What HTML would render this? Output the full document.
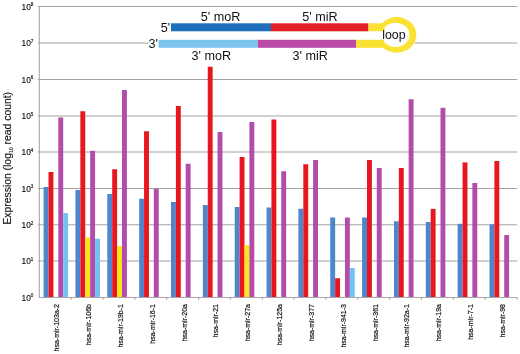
<!DOCTYPE html>
<html><head><meta charset="utf-8"><title>Expression chart</title>
<style>html,body{margin:0;padding:0;background:#fff}svg{display:block}text{font-family:"Liberation Sans",Arial,sans-serif;fill:#111}</style></head><body>
<svg width="520" height="354" viewBox="0 0 520 354">
<rect width="520" height="354" fill="#fff"/>
<g stroke="#a3a3a3" stroke-width="1">
<line x1="37.8" y1="6.5" x2="517.2" y2="6.5"/>
<line x1="37.8" y1="43" x2="517.2" y2="43"/>
<line x1="37.8" y1="79.5" x2="517.2" y2="79.5"/>
<line x1="37.8" y1="116" x2="517.2" y2="116"/>
<line x1="37.8" y1="152" x2="517.2" y2="152"/>
<line x1="37.8" y1="188.5" x2="517.2" y2="188.5"/>
<line x1="37.8" y1="224.8" x2="517.2" y2="224.8"/>
<line x1="37.8" y1="261" x2="517.2" y2="261"/>
</g>
<rect x="148.5" y="9" width="266" height="56" fill="#fff"/>
<rect x="43.60" y="187" width="4.9" height="110.50" fill="#4f85cb"/>
<rect x="48.50" y="172" width="4.9" height="125.50" fill="#e8161e"/>
<rect x="58.30" y="117.5" width="4.9" height="180.00" fill="#b34dab"/>
<rect x="63.20" y="213" width="4.9" height="84.50" fill="#70c4ef"/>
<rect x="75.45" y="190" width="4.9" height="107.50" fill="#4f85cb"/>
<rect x="80.35" y="111.25" width="4.9" height="186.25" fill="#e8161e"/>
<rect x="85.25" y="237.5" width="4.9" height="60.00" fill="#f8e520"/>
<rect x="90.15" y="150.75" width="4.9" height="146.75" fill="#b34dab"/>
<rect x="95.05" y="238.75" width="4.9" height="58.75" fill="#70c4ef"/>
<rect x="107.30" y="194" width="4.9" height="103.50" fill="#4f85cb"/>
<rect x="112.20" y="169.25" width="4.9" height="128.25" fill="#e8161e"/>
<rect x="117.10" y="246.25" width="4.9" height="51.25" fill="#f8e520"/>
<rect x="122.00" y="90" width="4.9" height="207.50" fill="#b34dab"/>
<rect x="139.15" y="198.75" width="4.9" height="98.75" fill="#4f85cb"/>
<rect x="144.05" y="131.25" width="4.9" height="166.25" fill="#e8161e"/>
<rect x="153.85" y="188.75" width="4.9" height="108.75" fill="#b34dab"/>
<rect x="171.00" y="202" width="4.9" height="95.50" fill="#4f85cb"/>
<rect x="175.90" y="106" width="4.9" height="191.50" fill="#e8161e"/>
<rect x="185.70" y="163.75" width="4.9" height="133.75" fill="#b34dab"/>
<rect x="202.85" y="205" width="4.9" height="92.50" fill="#4f85cb"/>
<rect x="207.75" y="66.75" width="4.9" height="230.75" fill="#e8161e"/>
<rect x="217.55" y="132" width="4.9" height="165.50" fill="#b34dab"/>
<rect x="234.70" y="207" width="4.9" height="90.50" fill="#4f85cb"/>
<rect x="239.60" y="157" width="4.9" height="140.50" fill="#e8161e"/>
<rect x="244.50" y="245" width="4.9" height="52.50" fill="#f8e520"/>
<rect x="249.40" y="122" width="4.9" height="175.50" fill="#b34dab"/>
<rect x="266.55" y="207.5" width="4.9" height="90.00" fill="#4f85cb"/>
<rect x="271.45" y="119.5" width="4.9" height="178.00" fill="#e8161e"/>
<rect x="281.25" y="171.25" width="4.9" height="126.25" fill="#b34dab"/>
<rect x="298.40" y="208.75" width="4.9" height="88.75" fill="#4f85cb"/>
<rect x="303.30" y="164.25" width="4.9" height="133.25" fill="#e8161e"/>
<rect x="313.10" y="160" width="4.9" height="137.50" fill="#b34dab"/>
<rect x="330.25" y="217.5" width="4.9" height="80.00" fill="#4f85cb"/>
<rect x="335.15" y="278.25" width="4.9" height="19.25" fill="#e8161e"/>
<rect x="344.95" y="217.5" width="4.9" height="80.00" fill="#b34dab"/>
<rect x="349.85" y="268" width="4.9" height="29.50" fill="#70c4ef"/>
<rect x="362.10" y="217.5" width="4.9" height="80.00" fill="#4f85cb"/>
<rect x="367.00" y="160" width="4.9" height="137.50" fill="#e8161e"/>
<rect x="376.80" y="168" width="4.9" height="129.50" fill="#b34dab"/>
<rect x="393.95" y="221.25" width="4.9" height="76.25" fill="#4f85cb"/>
<rect x="398.85" y="168" width="4.9" height="129.50" fill="#e8161e"/>
<rect x="408.65" y="99.25" width="4.9" height="198.25" fill="#b34dab"/>
<rect x="425.80" y="222" width="4.9" height="75.50" fill="#4f85cb"/>
<rect x="430.70" y="208.9" width="4.9" height="88.60" fill="#e8161e"/>
<rect x="440.50" y="107.8" width="4.9" height="189.70" fill="#b34dab"/>
<rect x="457.65" y="223.8" width="4.9" height="73.70" fill="#4f85cb"/>
<rect x="462.55" y="162.4" width="4.9" height="135.10" fill="#e8161e"/>
<rect x="472.35" y="183" width="4.9" height="114.50" fill="#b34dab"/>
<rect x="489.50" y="224.3" width="4.9" height="73.20" fill="#4f85cb"/>
<rect x="494.40" y="161" width="4.9" height="136.50" fill="#e8161e"/>
<rect x="504.20" y="235" width="4.9" height="62.50" fill="#b34dab"/>
<line x1="39.3" y1="6" x2="39.3" y2="298.0" stroke="#a0a0a0" stroke-width="1"/>
<line x1="38.8" y1="297.5" x2="517.2" y2="297.5" stroke="#ada6a6" stroke-width="1"/>
<g stroke="#a8948f" stroke-width="1">
<line x1="71.15" y1="297.5" x2="71.15" y2="299.7"/>
<line x1="103.00" y1="297.5" x2="103.00" y2="299.7"/>
<line x1="134.85" y1="297.5" x2="134.85" y2="299.7"/>
<line x1="166.70" y1="297.5" x2="166.70" y2="299.7"/>
<line x1="198.55" y1="297.5" x2="198.55" y2="299.7"/>
<line x1="230.40" y1="297.5" x2="230.40" y2="299.7"/>
<line x1="262.25" y1="297.5" x2="262.25" y2="299.7"/>
<line x1="294.10" y1="297.5" x2="294.10" y2="299.7"/>
<line x1="325.95" y1="297.5" x2="325.95" y2="299.7"/>
<line x1="357.80" y1="297.5" x2="357.80" y2="299.7"/>
<line x1="389.65" y1="297.5" x2="389.65" y2="299.7"/>
<line x1="421.50" y1="297.5" x2="421.50" y2="299.7"/>
<line x1="453.35" y1="297.5" x2="453.35" y2="299.7"/>
<line x1="485.20" y1="297.5" x2="485.20" y2="299.7"/>
<line x1="517.05" y1="297.5" x2="517.05" y2="299.7"/>
</g>
<text x="21.6" y="9.8" font-size="8.4" stroke="#1a1a1a" stroke-width="0.15">10<tspan font-size="4.6" dy="-3.4" dx="-0.2">8</tspan></text>
<text x="21.6" y="46.3" font-size="8.4" stroke="#1a1a1a" stroke-width="0.15">10<tspan font-size="4.6" dy="-3.4" dx="-0.2">7</tspan></text>
<text x="21.6" y="82.8" font-size="8.4" stroke="#1a1a1a" stroke-width="0.15">10<tspan font-size="4.6" dy="-3.4" dx="-0.2">6</tspan></text>
<text x="21.6" y="119.3" font-size="8.4" stroke="#1a1a1a" stroke-width="0.15">10<tspan font-size="4.6" dy="-3.4" dx="-0.2">5</tspan></text>
<text x="21.6" y="155.3" font-size="8.4" stroke="#1a1a1a" stroke-width="0.15">10<tspan font-size="4.6" dy="-3.4" dx="-0.2">4</tspan></text>
<text x="21.6" y="191.8" font-size="8.4" stroke="#1a1a1a" stroke-width="0.15">10<tspan font-size="4.6" dy="-3.4" dx="-0.2">3</tspan></text>
<text x="21.6" y="228.10000000000002" font-size="8.4" stroke="#1a1a1a" stroke-width="0.15">10<tspan font-size="4.6" dy="-3.4" dx="-0.2">2</tspan></text>
<text x="21.6" y="264.3" font-size="8.4" stroke="#1a1a1a" stroke-width="0.15">10<tspan font-size="4.6" dy="-3.4" dx="-0.2">1</tspan></text>
<text x="21.6" y="300.8" font-size="8.4" stroke="#1a1a1a" stroke-width="0.15">10<tspan font-size="4.6" dy="-3.4" dx="-0.2">0</tspan></text>
<text transform="translate(11.2,224.6) rotate(-90)" font-size="10.38" word-spacing="0" stroke="#1a1a1a" stroke-width="0.15">Expression (log<tspan font-size="5.2" dy="1.8">10</tspan><tspan dy="-1.8"> read count)</tspan></text>
<text transform="translate(59.12,304) rotate(-90)" font-size="7" text-anchor="end" stroke="#1a1a1a" stroke-width="0.2">hsa-mir-103a-2</text>
<text transform="translate(90.98,304) rotate(-90)" font-size="7" text-anchor="end" stroke="#1a1a1a" stroke-width="0.2">hsa-mir-106b</text>
<text transform="translate(122.83,304) rotate(-90)" font-size="7" text-anchor="end" stroke="#1a1a1a" stroke-width="0.2">hsa-mir-19b-1</text>
<text transform="translate(154.68,304) rotate(-90)" font-size="7" text-anchor="end" stroke="#1a1a1a" stroke-width="0.2">hsa-mir-16-1</text>
<text transform="translate(186.53,304) rotate(-90)" font-size="7" text-anchor="end" stroke="#1a1a1a" stroke-width="0.2">hsa-mir-20a</text>
<text transform="translate(218.38,304) rotate(-90)" font-size="7" text-anchor="end" stroke="#1a1a1a" stroke-width="0.2">hsa-mir-21</text>
<text transform="translate(250.23,304) rotate(-90)" font-size="7" text-anchor="end" stroke="#1a1a1a" stroke-width="0.2">hsa-mir-27a</text>
<text transform="translate(282.07,304) rotate(-90)" font-size="7" text-anchor="end" stroke="#1a1a1a" stroke-width="0.2">hsa-mir-125a</text>
<text transform="translate(313.93,304) rotate(-90)" font-size="7" text-anchor="end" stroke="#1a1a1a" stroke-width="0.2">hsa-mir-377</text>
<text transform="translate(345.78,304) rotate(-90)" font-size="7" text-anchor="end" stroke="#1a1a1a" stroke-width="0.2">hsa-mir-941-3</text>
<text transform="translate(377.62,304) rotate(-90)" font-size="7" text-anchor="end" stroke="#1a1a1a" stroke-width="0.2">hsa-mir-361</text>
<text transform="translate(409.48,304) rotate(-90)" font-size="7" text-anchor="end" stroke="#1a1a1a" stroke-width="0.2">hsa-mir-92a-1</text>
<text transform="translate(441.33,304) rotate(-90)" font-size="7" text-anchor="end" stroke="#1a1a1a" stroke-width="0.2">hsa-mir-19a</text>
<text transform="translate(473.18,304) rotate(-90)" font-size="7" text-anchor="end" stroke="#1a1a1a" stroke-width="0.2">hsa-mir-7-1</text>
<text transform="translate(505.03,304) rotate(-90)" font-size="7" text-anchor="end" stroke="#1a1a1a" stroke-width="0.2">hsa-mir-98</text>
<rect x="171" y="23.3" width="100" height="8" fill="#1c6fb8"/>
<rect x="271" y="23.3" width="97.5" height="8" fill="#e11f26"/>
<rect x="158.6" y="39.8" width="99.2" height="8" fill="#7cc6ee"/>
<rect x="257.8" y="39.8" width="98.4" height="8" fill="#b94ba6"/>
<rect x="368.5" y="23.3" width="16" height="8" fill="#f9e234"/>
<rect x="356.2" y="39.8" width="28" height="8" fill="#f9e234"/>
<path fill="#f9e234" fill-rule="evenodd" d="M377,34.9 a19.7,17.8 0 1,0 39.4,0 a19.7,17.8 0 1,0 -39.4,0 Z M381.6,34.9 a13.9,12.1 0 1,0 27.8,0 a13.9,12.1 0 1,0 -27.8,0 Z"/>
<rect x="375" y="31.3" width="9.5" height="8.5" fill="#fff"/>
<text x="200.8" y="21" font-size="12.6">5' moR</text>
<text x="302.3" y="21" font-size="12.6">5' miR</text>
<text x="191.5" y="59.6" font-size="12.6">3' moR</text>
<text x="292.5" y="59.6" font-size="12.6">3' miR</text>
<text x="160.8" y="31.7" font-size="12.6">5'</text>
<text x="148.6" y="48.2" font-size="12.6">3'</text>
<text x="382.3" y="39" font-size="12.3">loop</text>
</svg></body></html>
